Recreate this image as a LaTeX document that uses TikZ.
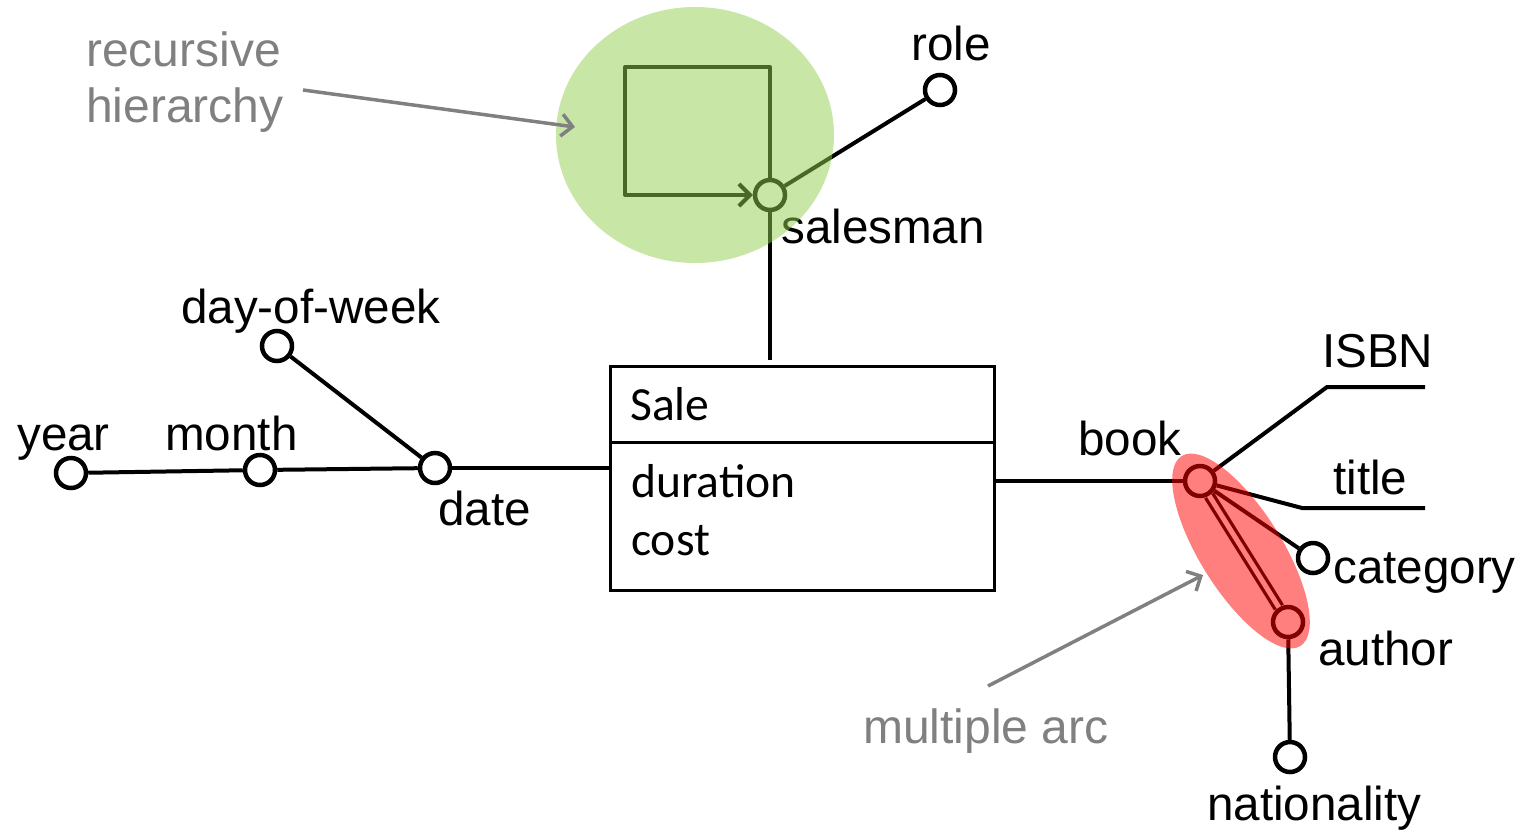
\documentclass[tikz,border=0pt]{standalone}
\usepackage{fontspec}
\setmainfont{Liberation Sans}
\newfontfamily\calibri{Carlito}
\usetikzlibrary{arrows.meta}
\definecolor{hiergreen}{HTML}{92D050}
\definecolor{notegray}{RGB}{128,128,128}

\begin{document}
\begin{tikzpicture}[x=1pt,y=-1pt,
  attr/.style={circle,draw,fill=white,line width=4.5pt,minimum size=30pt,inner sep=0pt},
  lbl/.style={anchor=base west,inner sep=0pt,font=\fontsize{47.6}{57}\selectfont},
  factlbl/.style={anchor=base west,inner sep=0pt,font=\calibri\fontsize{47.6}{57}\selectfont},
  edge/.style={line width=4pt},
  note/.style={anchor=base west,inner sep=0pt,text=notegray,font=\fontsize{48}{57}\selectfont},
  pointer/.style={draw=notegray,line width=3.5pt,-{Straight Barb[length=11pt,width=22pt,line width=3.5pt]}}
]
\useasboundingbox (0,0) rectangle (1528,831);

% fact box
\node[draw,line width=3pt,minimum width=384pt,minimum height=224pt,inner sep=0pt] (sale) at (802,478) {};
\coordinate (divL) at (610,442);
\coordinate (divR) at (994,442);
\draw[line width=3pt] (divL) -- (divR);
\node[factlbl] (saleName) at (630,420) {Sale};
\node[factlbl] (measDur) at (631,497) {duration};
\node[factlbl] (measCost) at (631,555) {cost};

% date hierarchy
\node[attr] (date) at (435,468) {};
\node[attr] (month) at (260,470) {};
\node[attr] (year) at (71,473) {};
\node[attr] (dow) at (277,346) {};
\draw[edge] (date) -- (date -| sale.west);
\draw[edge] (date) -- (month);
\draw[edge] (month) -- (year);
\draw[edge] (date) -- (dow);
\node[lbl] (yearLbl) at (17,450) {year};
\node[lbl] (monthLbl) at (165,450) {month};
\node[lbl] (dowLbl) at (181,323) {day-of-week};
\node[lbl] (dateLbl) at (438,525) {date};

% salesman hierarchy
\node[attr] (salesman) at (770,195) {};
\node[attr] (role) at (940,90) {};
\coordinate (saleTop) at (770,360);
\coordinate (sqA) at (770,67);
\coordinate (sqB) at (625,67);
\coordinate (sqC) at (625,195);
\draw[edge] (salesman) -- (saleTop);
\draw[edge] (salesman) -- (role);
\draw[edge,line join=round,-{Straight Barb[length=11pt,width=22pt,line width=4pt]}]
  (salesman.north) -- (sqA) -- (sqB) -- (sqC) -- (salesman.west);
\node[lbl] (roleLbl) at (911,60) {role};
\node[lbl] (salesmanLbl) at (781,243) {salesman};

% book hierarchy
\node[attr] (book) at (1200,481) {};
\node[attr] (category) at (1313,558) {};
\node[attr] (author) at (1288,622) {};
\node[attr] (nationality) at (1290,757) {};
\coordinate (isbnK) at (1327,387);
\coordinate (isbnE) at (1425,387);
\coordinate (titleK) at (1302,508);
\coordinate (titleE) at (1425,508);
\draw[edge] (book) -- (book -| sale.east);
\draw[edge] (book) -- (isbnK) -- (isbnE);
\draw[edge] (book) -- (titleK) -- (titleE);
\draw[edge] (book) -- (category);
\draw[line width=3.3pt,double=white,double distance=5pt] (book) -- (author);
\draw[edge] (author) -- (nationality);
\node[lbl] (bookLbl) at (1078,455) {book};
\node[lbl] (isbnLbl) at (1322,367) {ISBN};
\node[lbl] (titleLbl) at (1333,494) {title};
\node[lbl] (categoryLbl) at (1333,583) {category};
\node[lbl] (authorLbl) at (1318,665) {author};
\node[lbl] (nationalityLbl) at (1207,820) {nationality};

% highlights
\fill[hiergreen,fill opacity=0.5] (695,135) ellipse [x radius=139pt,y radius=128pt];
\fill[red,fill opacity=0.5,rotate around={-58:(1241,551)}] (1241,551) ellipse [x radius=112pt,y radius=41pt];

% annotations
\node[note] (recLbl1) at (86,66) {recursive};
\node[note] (recLbl2) at (86,122) {hierarchy};
\coordinate (recTail) at (303,90);
\coordinate (recTip) at (575,127);
\draw[pointer] (recTail) -- (recTip);
\node[note] (multiLbl) at (863,743) {multiple arc};
\coordinate (multiTail) at (988,686);
\coordinate (multiTip) at (1203,575);
\draw[pointer] (multiTail) -- (multiTip);
\end{tikzpicture}
\end{document}
